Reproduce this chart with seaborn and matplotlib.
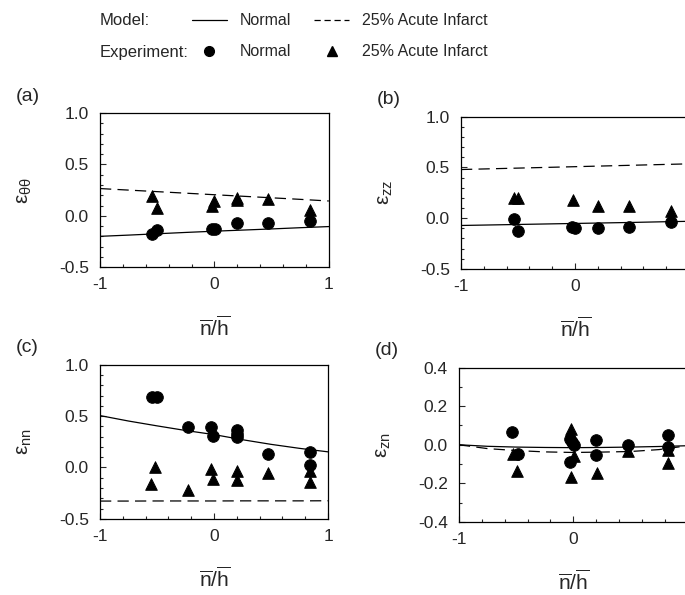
import numpy as np
import pandas as pd
import seaborn as sns
from matplotlib import pyplot as plt
from matplotlib.lines import Line2D
from matplotlib.ticker import MultipleLocator

sns.set_theme(style='ticks')
plt.rcParams['font.family'] = ['Liberation Sans', 'DejaVu Sans']
plt.rcParams['mathtext.fontset'] = 'custom'
plt.rcParams['mathtext.rm'] = 'Liberation Sans'
plt.rcParams['mathtext.it'] = 'Liberation Sans:italic'
plt.rcParams['axes.unicode_minus'] = False

# model curves, shared x grid
model_x = [-1.0, -0.75, -0.5, -0.25, 0.0, 0.25, 0.5, 0.75, 1.0]

# (a) e_theta_theta
a_model_normal = [-0.20, -0.188, -0.175, -0.162, -0.150, -0.139, -0.128, -0.116, -0.105]
a_model_infarct = [0.265, 0.250, 0.235, 0.220, 0.205, 0.190, 0.175, 0.160, 0.144]
a_exp_normal_x = [-0.545, -0.504, -0.023, 0.006, 0.197, 0.47, 0.835]
a_exp_normal_y = [-0.176, -0.137, -0.124, -0.13, -0.075, -0.075, -0.052]
a_exp_infarct_x = [-0.545, -0.504, -0.023, 0.0, 0.197, 0.197, 0.47, 0.835]
a_exp_infarct_y = [0.193, 0.078, 0.095, 0.14, 0.17, 0.15, 0.167, 0.056]

# (b) e_zz
b_model_normal = [-0.072, -0.067, -0.062, -0.057, -0.052, -0.047, -0.042, -0.036, -0.031]
b_model_infarct = [0.479, 0.486, 0.493, 0.500, 0.507, 0.514, 0.521, 0.528, 0.535]
b_exp_normal_x = [-0.538, -0.497, -0.023, 0.0, 0.2, 0.474, 0.842]
b_exp_normal_y = [-0.007, -0.128, -0.089, -0.095, -0.095, -0.089, -0.033]
b_exp_infarct_x = [-0.538, -0.497, -0.015, 0.2, 0.474, 0.842]
b_exp_infarct_y = [0.20, 0.20, 0.18, 0.115, 0.115, 0.075]

# (c) e_nn
c_model_normal = [0.505, 0.452, 0.405, 0.360, 0.320, 0.270, 0.225, 0.186, 0.152]
c_model_infarct = [-0.327, -0.327, -0.326, -0.326, -0.326, -0.325, -0.325, -0.325, -0.324]
c_exp_normal_x = [-0.544, -0.503, -0.225, -0.03, -0.006, 0.2, 0.2, 0.2, 0.474, 0.842, 0.842]
c_exp_normal_y = [0.69, 0.69, 0.392, 0.392, 0.305, 0.366, 0.33, 0.30, 0.133, 0.149, 0.026]
c_exp_infarct_x = [-0.515, -0.55, -0.228, -0.03, -0.006, 0.2, 0.2, 0.474, 0.842, 0.842]
c_exp_infarct_y = [0.003, -0.165, -0.217, -0.013, -0.113, -0.039, -0.12, -0.049, -0.035, -0.139]

# (d) e_zn
d_model_normal = [0.0, -0.008, -0.012, -0.014, -0.015, -0.014, -0.012, -0.009, -0.005]
d_model_infarct = [0.0, -0.020, -0.030, -0.037, -0.040, -0.038, -0.035, -0.025, -0.005]
d_exp_normal_x = [-0.535, -0.485, -0.029, -0.012, 0.009, -0.029, 0.198, 0.198, 0.474, 0.831, 0.831]
d_exp_normal_y = [0.068, -0.05, 0.028, 0.014, -0.003, -0.09, 0.024, -0.055, -0.003, 0.052, -0.01]
d_exp_infarct_x = [-0.529, -0.494, -0.02, 0.003, -0.02, 0.203, 0.474, 0.831, 0.831]
d_exp_infarct_y = [-0.05, -0.137, 0.083, -0.059, -0.168, -0.145, -0.033, -0.028, -0.097]

panels = [
    ('(a)', r'$\mathrm{\varepsilon}_{\mathrm{θθ}}$', (-0.5, 1.0), 0.5,
     a_model_normal, a_model_infarct, a_exp_normal_x, a_exp_normal_y, a_exp_infarct_x, a_exp_infarct_y),
    ('(b)', r'$\mathrm{\varepsilon}_{\mathrm{zz}}$', (-0.5, 1.0), 0.5,
     b_model_normal, b_model_infarct, b_exp_normal_x, b_exp_normal_y, b_exp_infarct_x, b_exp_infarct_y),
    ('(c)', r'$\mathrm{\varepsilon}_{\mathrm{nn}}$', (-0.5, 1.0), 0.5,
     c_model_normal, c_model_infarct, c_exp_normal_x, c_exp_normal_y, c_exp_infarct_x, c_exp_infarct_y),
    ('(d)', r'$\mathrm{\varepsilon}_{\mathrm{zn}}$', (-0.4, 0.4), 0.2,
     d_model_normal, d_model_infarct, d_exp_normal_x, d_exp_normal_y, d_exp_infarct_x, d_exp_infarct_y),
]

# axes rectangles in figure fraction (right column runs past the edge, as in the scan)
rects = [
    [0.146, 0.551, 0.334, 0.259],
    [0.673, 0.548, 0.333, 0.256],
    [0.146, 0.128, 0.333, 0.259],
    [0.670, 0.123, 0.334, 0.259],
]

dash = (0, (9, 5))
fig = plt.figure(figsize=(6.85, 5.95), dpi=100)

for i, (rect, p) in enumerate(zip(rects, panels)):
    letter, ylab, ylim, ymaj, mn, mi, enx, eny, eix, eiy = p
    ax = fig.add_axes(rect)
    model = pd.DataFrame({'x': model_x, 'normal': mn, 'infarct': mi})
    sns.lineplot(data=model, x='x', y='normal', ax=ax, color='black', lw=0.9)
    sns.lineplot(data=model, x='x', y='infarct', ax=ax, color='black', lw=0.9, linestyle=dash)
    sns.scatterplot(x=enx, y=eny, ax=ax, marker='o', s=70, color='black', edgecolor='black', zorder=3)
    sns.scatterplot(x=eix, y=eiy, ax=ax, marker='^', s=70, color='black', edgecolor='black', zorder=3)
    ax.set_xlim(-1, 1)
    ax.set_ylim(*ylim)
    if i % 2 == 1:
        ax.set_xticks([-1, 0, 1], ['-1', '0', ''])
    else:
        ax.set_xticks([-1, 0, 1], ['-1', '0', '1'])
    ax.xaxis.set_minor_locator(MultipleLocator(0.2))
    ax.yaxis.set_major_locator(MultipleLocator(ymaj))
    ax.yaxis.set_minor_locator(MultipleLocator(0.1))
    ax.yaxis.set_major_formatter(plt.FormatStrFormatter('%.1f'))
    ax.tick_params(which='both', direction='in', labelsize=12.5, width=0.8)
    ax.tick_params(axis='y', pad=8)
    ax.tick_params(axis='x', pad=7)
    ax.tick_params(which='major', length=4)
    ax.tick_params(which='minor', length=2)
    for s in ax.spines.values():
        s.set_linewidth(0.9)
        s.set_color('black')
    ax.set_xlabel(r'$\overline{\mathrm{n}}/\overline{\mathrm{h}}$', fontsize=15)
    ax.xaxis.set_label_coords(0.5, -0.31)
    ax.set_ylabel(ylab, fontsize=15)
    ax.yaxis.set_label_coords(-0.29, 0.5)
    ax.text(-0.37, 1.11, letter, transform=ax.transAxes, fontsize=14,
            ha='left', va='center')

# legend
fig.text(0.146, 0.966, 'Model:', fontsize=12, va='center', ha='left')
fig.text(0.146, 0.912, 'Experiment:', fontsize=12, va='center', ha='left')
handles = [
    Line2D([], [], color='black', lw=0.9),
    Line2D([], [], color='black', lw=0, marker='o', markersize=7),
    Line2D([], [], color='black', lw=0.9, linestyle=(0, (5, 3))),
    Line2D([], [], color='black', lw=0, marker='^', markersize=7),
]
labels = ['Normal', 'Normal', '25% Acute Infarct', '25% Acute Infarct']
fig.legend(handles, labels, ncol=2, frameon=False, fontsize=11.5,
           loc='center', bbox_to_anchor=(0.496, 0.939),
           handlelength=2.2, handletextpad=0.8, columnspacing=1.45,
           labelspacing=1.0)

fig.savefig('out.png', dpi=100, facecolor='white')
